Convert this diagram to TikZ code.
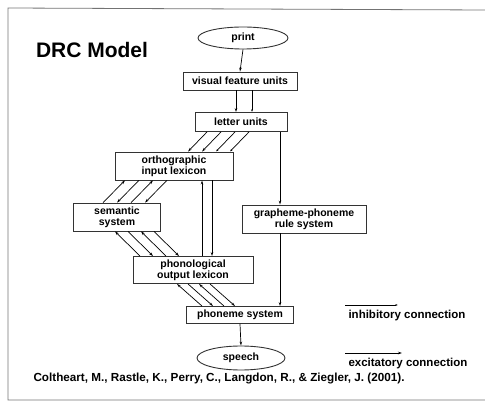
\documentclass[tikz,border=0pt]{standalone}
\usepackage{fontspec}
\setmainfont{Liberation Sans}
\usetikzlibrary{positioning}
\usetikzlibrary{shapes.geometric}
\usetikzlibrary{arrows.meta}

\begin{document}
\begin{tikzpicture}[x=1pt, y=-1pt,
unitbox/.style={rectangle, draw=black!80, line width=0.9pt, inner sep=1pt, font=\fontsize{10.5}{11}\selectfont\bfseries, align=center},
ioellipse/.style={ellipse, draw=black!80, line width=0.9pt, inner sep=0pt, font=\fontsize{10.5}{11}\selectfont\bfseries},
link/.style={line width=0.7pt, -{Stealth[length=4pt, width=2.5pt]}},
inhlink/.style={line width=0.7pt, -{Latex[length=2.5pt, width=2pt]}},
]
\useasboundingbox (0,0) rectangle (485,403);
%Frame
\draw[black!55, line width=0.8pt] (485,10) -- (8,8) -- (8,400) -- (485,400);

%Nodes
\node[font=\fontsize{21}{23}\selectfont\bfseries] (title) at (92,50) {DRC Model};
\node[ioellipse, minimum width=90pt, minimum height=22pt] (print) at (243,38) {print};
\node[unitbox, minimum width=114pt, minimum height=18pt] (visual) at (240,81) {visual feature units};
\node[unitbox, minimum width=92pt, minimum height=19pt] (letter) at (241,122) {letter units};
\node[unitbox, minimum width=118pt, minimum height=28pt] (orthlex) at (174,166) {orthographic\\input lexicon};
\node[unitbox, minimum width=87pt, minimum height=28pt] (semantic) at (117,217) {semantic\\system};
\node[unitbox, minimum width=124pt, minimum height=28pt] (gpc) at (304,219) {grapheme-phoneme\\rule system};
\node[unitbox, minimum width=120pt, minimum height=27pt] (phonlex) at (193,270) {phonological\\output lexicon};
\node[unitbox, minimum width=107pt, minimum height=17pt] (phoneme) at (240,315) {phoneme system};
\node[ioellipse, minimum width=88pt, minimum height=24pt] (speech) at (241,358) {speech};
\node[font=\fontsize{11.5}{12}\selectfont\bfseries, anchor=west] (inhlabel) at (345,316) {inhibitory connection};
\node[font=\fontsize{11.5}{12}\selectfont\bfseries, anchor=west] (exclabel) at (345,364) {excitatory connection};
\node[font=\fontsize{11.7}{12}\selectfont\bfseries, anchor=west] (citation) at (30,379) {Coltheart, M., Rastle, K., Perry, C., Langdon, R., \& Ziegler, J. (2001).};
\coordinate (inhend) at (398,305);
\coordinate (excend) at (402,353);

%Lines
\draw[link] (print.south) -- (visual.north);
\draw[link] ([xshift=-4pt]visual.south) -- ([xshift=-5pt]letter.north);
\draw[inhlink] ([xshift=12pt]visual.south) -- ([xshift=11pt]letter.north);
\foreach \a/\b/\tip in {-34/14/link, -20/28/link, -6/42/inhlink, 8/56/inhlink}
  \draw[\tip] ([xshift=\a pt]letter.south) -- ([xshift=\b pt]orthlex.north);
\foreach \a/\b in {-49/-14, -21/14}
  \draw[link] ([xshift=\b pt]semantic.north) -- ([xshift=\a pt]orthlex.south);
\foreach \a/\b in {-35/0, -7/28}
  \draw[link] ([xshift=\a pt]orthlex.south) -- ([xshift=\b pt]semantic.north);
\foreach \a/\b in {-2/-53, 24/-27}
  \draw[link] ([xshift=\b pt]phonlex.north) -- ([xshift=\a pt]semantic.south);
\foreach \a/\b in {11/-40, 37/-14}
  \draw[link] ([xshift=\a pt]semantic.south) -- ([xshift=\b pt]phonlex.north);
\draw[link] ([xshift=9pt]phonlex.north) -- ([xshift=28pt]orthlex.south);
\draw[link] ([xshift=38pt]orthlex.south) -- ([xshift=19pt]phonlex.north);
\foreach \a/\b in {-16/-38, 6/-16}
  \draw[link] ([xshift=\b pt]phoneme.north) -- ([xshift=\a pt]phonlex.south);
\foreach \a/\b in {-5/-27, 17/-5}
  \draw[link] ([xshift=\a pt]phonlex.south) -- ([xshift=\b pt]phoneme.north);
\draw[link] ([xshift=39pt]letter.south) -- ([xshift=-24pt]gpc.north);
\draw[link] ([xshift=-24pt]gpc.south) -- ([xshift=40pt]phoneme.north);
\draw[link] (phoneme.south) -- (speech.north);
\draw[inhlink] (inhend -| inhlabel.west) -- (inhend);
\draw[link] (excend -| exclabel.west) -- (excend);

\end{tikzpicture}
\end{document}
